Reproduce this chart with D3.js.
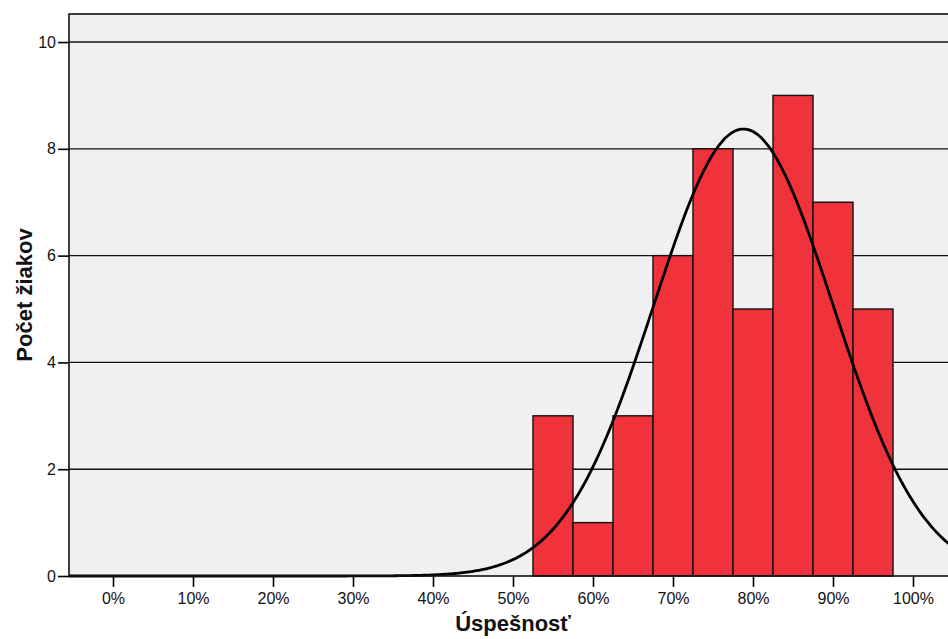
<!DOCTYPE html>
<html>
<head>
<meta charset="utf-8">
<script src="https://d3js.org/d3.v7.min.js"></script>
<style>
  body { margin: 0; background: #fff; }
  svg { font-family: "Liberation Sans", Arial, sans-serif; }
</style>
</head>
<body>
<svg width="948" height="639"></svg>
<script>
// histogram bins (centre of bin in %, count)
const binCenters = [55, 60, 65, 70, 75, 80, 85, 90, 95];
const counts = [3, 1, 3, 6, 8, 5, 9, 7, 5];
const binWidth = 5;
const xTicks = [0, 10, 20, 30, 40, 50, 60, 70, 80, 90, 100];
const yTicks = [0, 2, 4, 6, 8, 10];
// fitted normal curve parameters
const fitMean = 78.8;
const fitSd = 11.2;
const fitN = d3.sum(counts);

const plotLeft = 69, plotTop = 14, plotBottom = 576;
const svg = d3.select("svg");

const x = d3.scaleLinear().domain([-5.5, 105.5]).range([plotLeft, plotLeft + 111 * 8]);
const y = d3.scaleLinear().domain([0, 10.525]).range([plotBottom, plotTop]);

// plot background
svg.append("rect")
  .attr("x", x(-5.5)).attr("y", plotTop)
  .attr("width", x(105.5) - x(-5.5)).attr("height", plotBottom - plotTop)
  .attr("fill", "#f0f0f0");

// gridlines
svg.append("g").selectAll("line")
  .data(yTicks.filter(d => d > 0))
  .join("line")
  .attr("x1", x(-5.5)).attr("x2", x(105.5))
  .attr("y1", d => y(d)).attr("y2", d => y(d))
  .attr("stroke", "#111").attr("stroke-width", 1.4);

// bars
svg.append("g").selectAll("rect")
  .data(binCenters)
  .join("rect")
  .attr("x", d => x(d - binWidth / 2))
  .attr("width", x(binWidth) - x(0))
  .attr("y", (d, i) => y(counts[i]))
  .attr("height", (d, i) => y(0) - y(counts[i]))
  .attr("fill", "#f0333b")
  .attr("stroke", "#111")
  .attr("stroke-width", 1.4);

// normal curve
const curveX = d3.range(-5.5, 105.6, 0.25);
const dens = v => fitN * binWidth / (fitSd * Math.sqrt(2 * Math.PI)) *
  Math.exp(-0.5 * Math.pow((v - fitMean) / fitSd, 2));
svg.append("path")
  .datum(curveX)
  .attr("d", d3.line().x(d => x(d)).y(d => y(dens(d))))
  .attr("fill", "none")
  .attr("stroke", "#000")
  .attr("stroke-width", 2.8);

// frame
svg.append("rect")
  .attr("x", x(-5.5)).attr("y", plotTop)
  .attr("width", x(105.5) - x(-5.5)).attr("height", plotBottom - plotTop)
  .attr("fill", "none")
  .attr("stroke", "#111").attr("stroke-width", 1.6);

// y axis
const yAxis = svg.append("g")
  .attr("transform", `translate(${plotLeft},0)`)
  .attr("font-size", 16)
  .attr("font-family", "Liberation Sans, Arial, sans-serif")
  .call(d3.axisLeft(y).tickValues(yTicks).tickSize(11).tickPadding(2));
yAxis.attr("font-size", 16).attr("font-family", "Liberation Sans, Arial, sans-serif");
yAxis.select(".domain").remove();
yAxis.selectAll("line").attr("stroke", "#000").attr("stroke-width", 1.6);
yAxis.selectAll("text").attr("fill", "#111");

// x axis
const xAxis = svg.append("g")
  .attr("transform", `translate(0,${plotBottom})`)
  .call(d3.axisBottom(x).tickValues(xTicks).tickFormat(d => d + "%").tickSize(11).tickPadding(6));
xAxis.attr("font-size", 16).attr("font-family", "Liberation Sans, Arial, sans-serif");
xAxis.select(".domain").remove();
xAxis.selectAll("line").attr("stroke", "#000").attr("stroke-width", 1.6);
xAxis.selectAll("text").attr("fill", "#111");

// axis titles
svg.append("text")
  .attr("x", (x(-5.5) + x(105.5)) / 2).attr("y", 631)
  .attr("text-anchor", "middle")
  .attr("font-size", 22).attr("font-weight", "bold").attr("fill", "#111")
  .text("Úspešnosť");

svg.append("text")
  .attr("transform", `translate(32,${(plotTop + plotBottom) / 2}) rotate(-90)`)
  .attr("text-anchor", "middle")
  .attr("font-size", 22).attr("font-weight", "bold").attr("fill", "#111")
  .text("Počet žiakov");
</script>
</body>
</html>
